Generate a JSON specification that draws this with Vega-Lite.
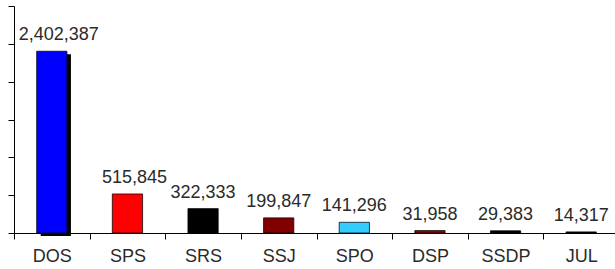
{
  "$schema": "https://vega.github.io/schema/vega-lite/v6.json",
  "width": 605,
  "height": 227,
  "autosize": {"type": "none"},
  "padding": {"left": 14, "top": 6, "right": 0, "bottom": 36},
  "background": "white",
  "config": {"view": {"stroke": null}, "font": "Liberation Sans"},
  "data": {
    "values": [
      {"code": "DOS", "value": 2402387},
      {"code": "SPS", "value": 515845},
      {"code": "SRS", "value": 322333},
      {"code": "SSJ", "value": 199847},
      {"code": "SPO", "value": 141296},
      {"code": "DSP", "value": 31958},
      {"code": "SSDP", "value": 29383},
      {"code": "JUL", "value": 14317}
    ]
  },
  "encoding": {
    "x": {
      "field": "code",
      "type": "nominal",
      "sort": null,
      "scale": {"paddingInner": 0, "paddingOuter": 0},
      "axis": {
        "title": null,
        "labelAngle": 0,
        "tickBand": "extent",
        "domainColor": "#000",
        "tickColor": "#000",
        "tickSize": 6,
        "labelFontSize": 18,
        "labelColor": "#2a2a2a",
        "labelPadding": 8,
        "labelFont": "Liberation Sans",
        "grid": false
      }
    },
    "y": {
      "field": "value",
      "type": "quantitative",
      "scale": {"domain": [0, 3000000], "nice": false},
      "axis": {
        "title": null,
        "labels": false,
        "grid": false,
        "values": [0, 500000, 1000000, 1500000, 2000000, 2500000, 3000000],
        "tickSize": 6,
        "tickColor": "#000",
        "domainColor": "#000"
      }
    }
  },
  "layer": [
    {
      "transform": [{"filter": "datum.code == 'DOS'"}],
      "mark": {"type": "bar", "color": "#000", "xOffset": 4, "yOffset": 3, "width": {"band": 0.4}}
    },
    {
      "mark": {"type": "bar", "width": {"band": 0.4}, "stroke": "#000", "strokeOpacity": 0.75, "strokeWidth": 1, "opacity": 1},
      "encoding": {
        "color": {
          "field": "code",
          "type": "nominal",
          "legend": null,
          "scale": {
            "domain": ["DOS", "SPS", "SRS", "SSJ", "SPO", "DSP", "SSDP", "JUL"],
            "range": ["#0000FF", "#FF0000", "#000000", "#800000", "#33CCFF", "#990000", "#000000", "#000000"]
          }
        }
      }
    },
    {
      "transform": [{"filter": "datum.code == 'DOS' || datum.code == 'SPS'"}],
      "mark": {"type": "text", "dy": -11, "dx": 7, "baseline": "alphabetic", "fontSize": 18, "color": "#2a2a2a", "font": "Liberation Sans"},
      "encoding": {
        "text": {"field": "value", "type": "quantitative", "format": ","}
      }
    },
    {
      "transform": [{"filter": "datum.code != 'DOS' && datum.code != 'SPS'"}],
      "mark": {"type": "text", "dy": -11, "baseline": "alphabetic", "fontSize": 18, "color": "#2a2a2a", "font": "Liberation Sans"},
      "encoding": {
        "text": {"field": "value", "type": "quantitative", "format": ","}
      }
    }
  ]
}
